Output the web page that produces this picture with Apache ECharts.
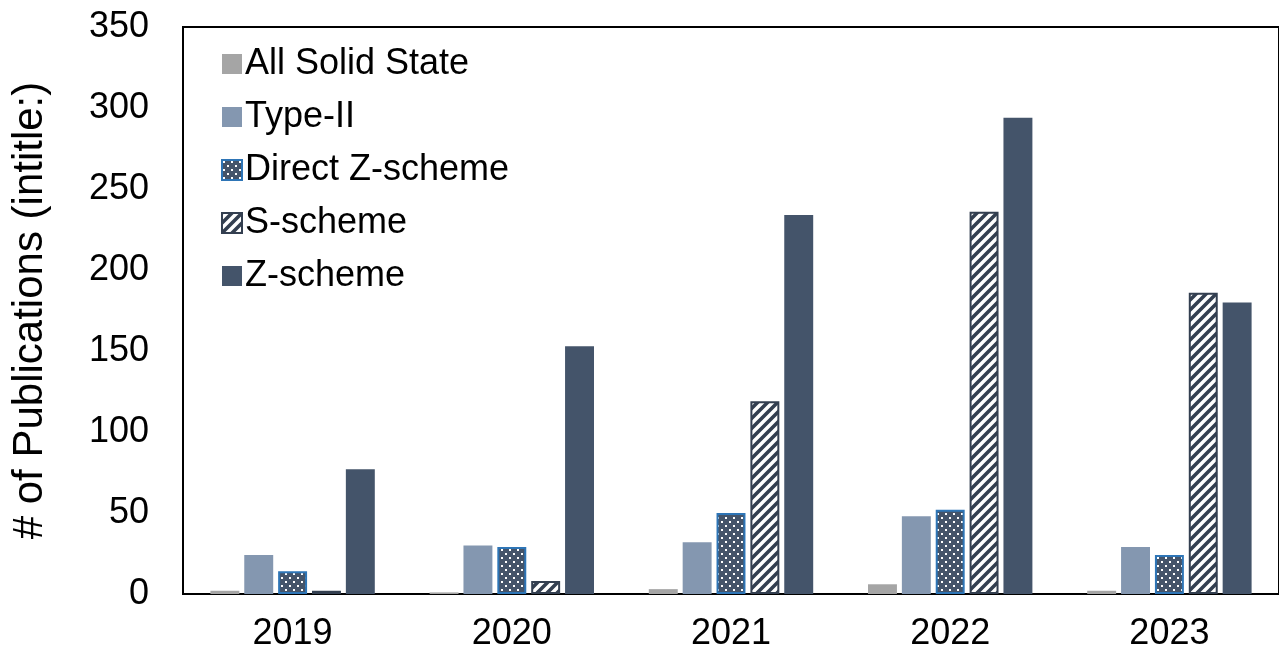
<!DOCTYPE html>
<html>
<head>
<meta charset="utf-8">
<script src="https://cdn.jsdelivr.net/npm/echarts@6/dist/echarts.min.js"></script>
<style>
  html, body { margin: 0; padding: 0; background: #fff; }
  #main { width: 1279px; height: 653px; }
</style>
</head>
<body>
<div id="main"></div>
<script>
// data
var years = ['2019', '2020', '2021', '2022', '2023'];
var allSolidState = [2, 1, 3, 6, 2];
var typeII = [24, 30, 32, 48, 29];
var directZ = [14, 29, 50, 52, 24];
var sScheme = [2, 8, 119, 236, 186];
var zScheme = [77, 153, 234, 294, 180];
var yTicks = [0, 50, 100, 150, 200, 250, 300, 350];

// dotted fill
function dotPattern() {
  var c = document.createElement('canvas');
  c.width = 8; c.height = 8;
  var ctx = c.getContext('2d');
  ctx.fillStyle = '#44546a';
  ctx.fillRect(0, 0, 8, 8);
  ctx.fillStyle = '#ffffff';
  ctx.fillRect(1, 1, 2, 2);
  ctx.fillRect(5, 5, 2, 2);
  return c;
}
// diagonal stripes
function stripePattern() {
  var c = document.createElement('canvas');
  c.width = 10; c.height = 10;
  var ctx = c.getContext('2d');
  ctx.fillStyle = '#ffffff';
  ctx.fillRect(0, 0, 10, 10);
  ctx.strokeStyle = '#333f50';
  ctx.lineWidth = 3.6;
  ctx.beginPath();
  ctx.moveTo(-2, 12); ctx.lineTo(12, -2);
  ctx.moveTo(-7, 7); ctx.lineTo(7, -7);
  ctx.moveTo(3, 17); ctx.lineTo(17, 3);
  ctx.stroke();
  return c;
}

var font = 'Liberation Sans, Arial, sans-serif';
var chart = echarts.init(document.getElementById('main'));

var option = {
  animation: false,
  textStyle: { fontFamily: font },
  grid: {
    left: 183, right: -2, top: 27, bottom: 59,
    show: true, borderColor: '#000', borderWidth: 2
  },
  legend: {
    orient: 'vertical',
    left: 221, top: 46,
    padding: 0,
    itemWidth: 20, itemHeight: 20,
    itemGap: 17,
    icon: 'rect',
    textStyle: { fontSize: 36, color: '#000', padding: [0, 0, 0, -2] },
    data: ['All Solid State', 'Type-II', 'Direct Z-scheme', 'S-scheme', 'Z-scheme']
  },
  xAxis: {
    type: 'category',
    data: years,
    axisLine: { lineStyle: { color: '#000', width: 2 } },
    axisTick: { show: false },
    axisLabel: { fontSize: 36, color: '#000', margin: 22 }
  },
  yAxis: {
    type: 'value',
    min: yTicks[0], max: yTicks[yTicks.length - 1], interval: 50,
    name: '# of Publications (intitle:)',
    nameLocation: 'middle',
    nameGap: 132,
    nameTextStyle: { fontSize: 42, color: '#000' },
    axisLine: { show: true, lineStyle: { color: '#000', width: 2 } },
    axisTick: { show: false },
    splitLine: { show: false },
    axisLabel: { fontSize: 36, color: '#000', margin: 34 }
  },
  series: [
    { name: 'All Solid State', type: 'bar', data: allSolidState, barGap: '17%', barCategoryGap: '25%',
      itemStyle: { color: '#a5a5a5' } },
    { name: 'Type-II', type: 'bar', data: typeII,
      itemStyle: { color: '#8497b0' } },
    { name: 'Direct Z-scheme', type: 'bar', data: directZ,
      itemStyle: { color: { image: dotPattern(), repeat: 'repeat' }, borderColor: '#2e75b6', borderWidth: 2 } },
    { name: 'S-scheme', type: 'bar', data: sScheme,
      itemStyle: { color: { image: stripePattern(), repeat: 'repeat' }, borderColor: '#333f50', borderWidth: 2 } },
    { name: 'Z-scheme', type: 'bar', data: zScheme,
      itemStyle: { color: '#44546a' } }
  ]
};
chart.setOption(option);
</script>
</body>
</html>
